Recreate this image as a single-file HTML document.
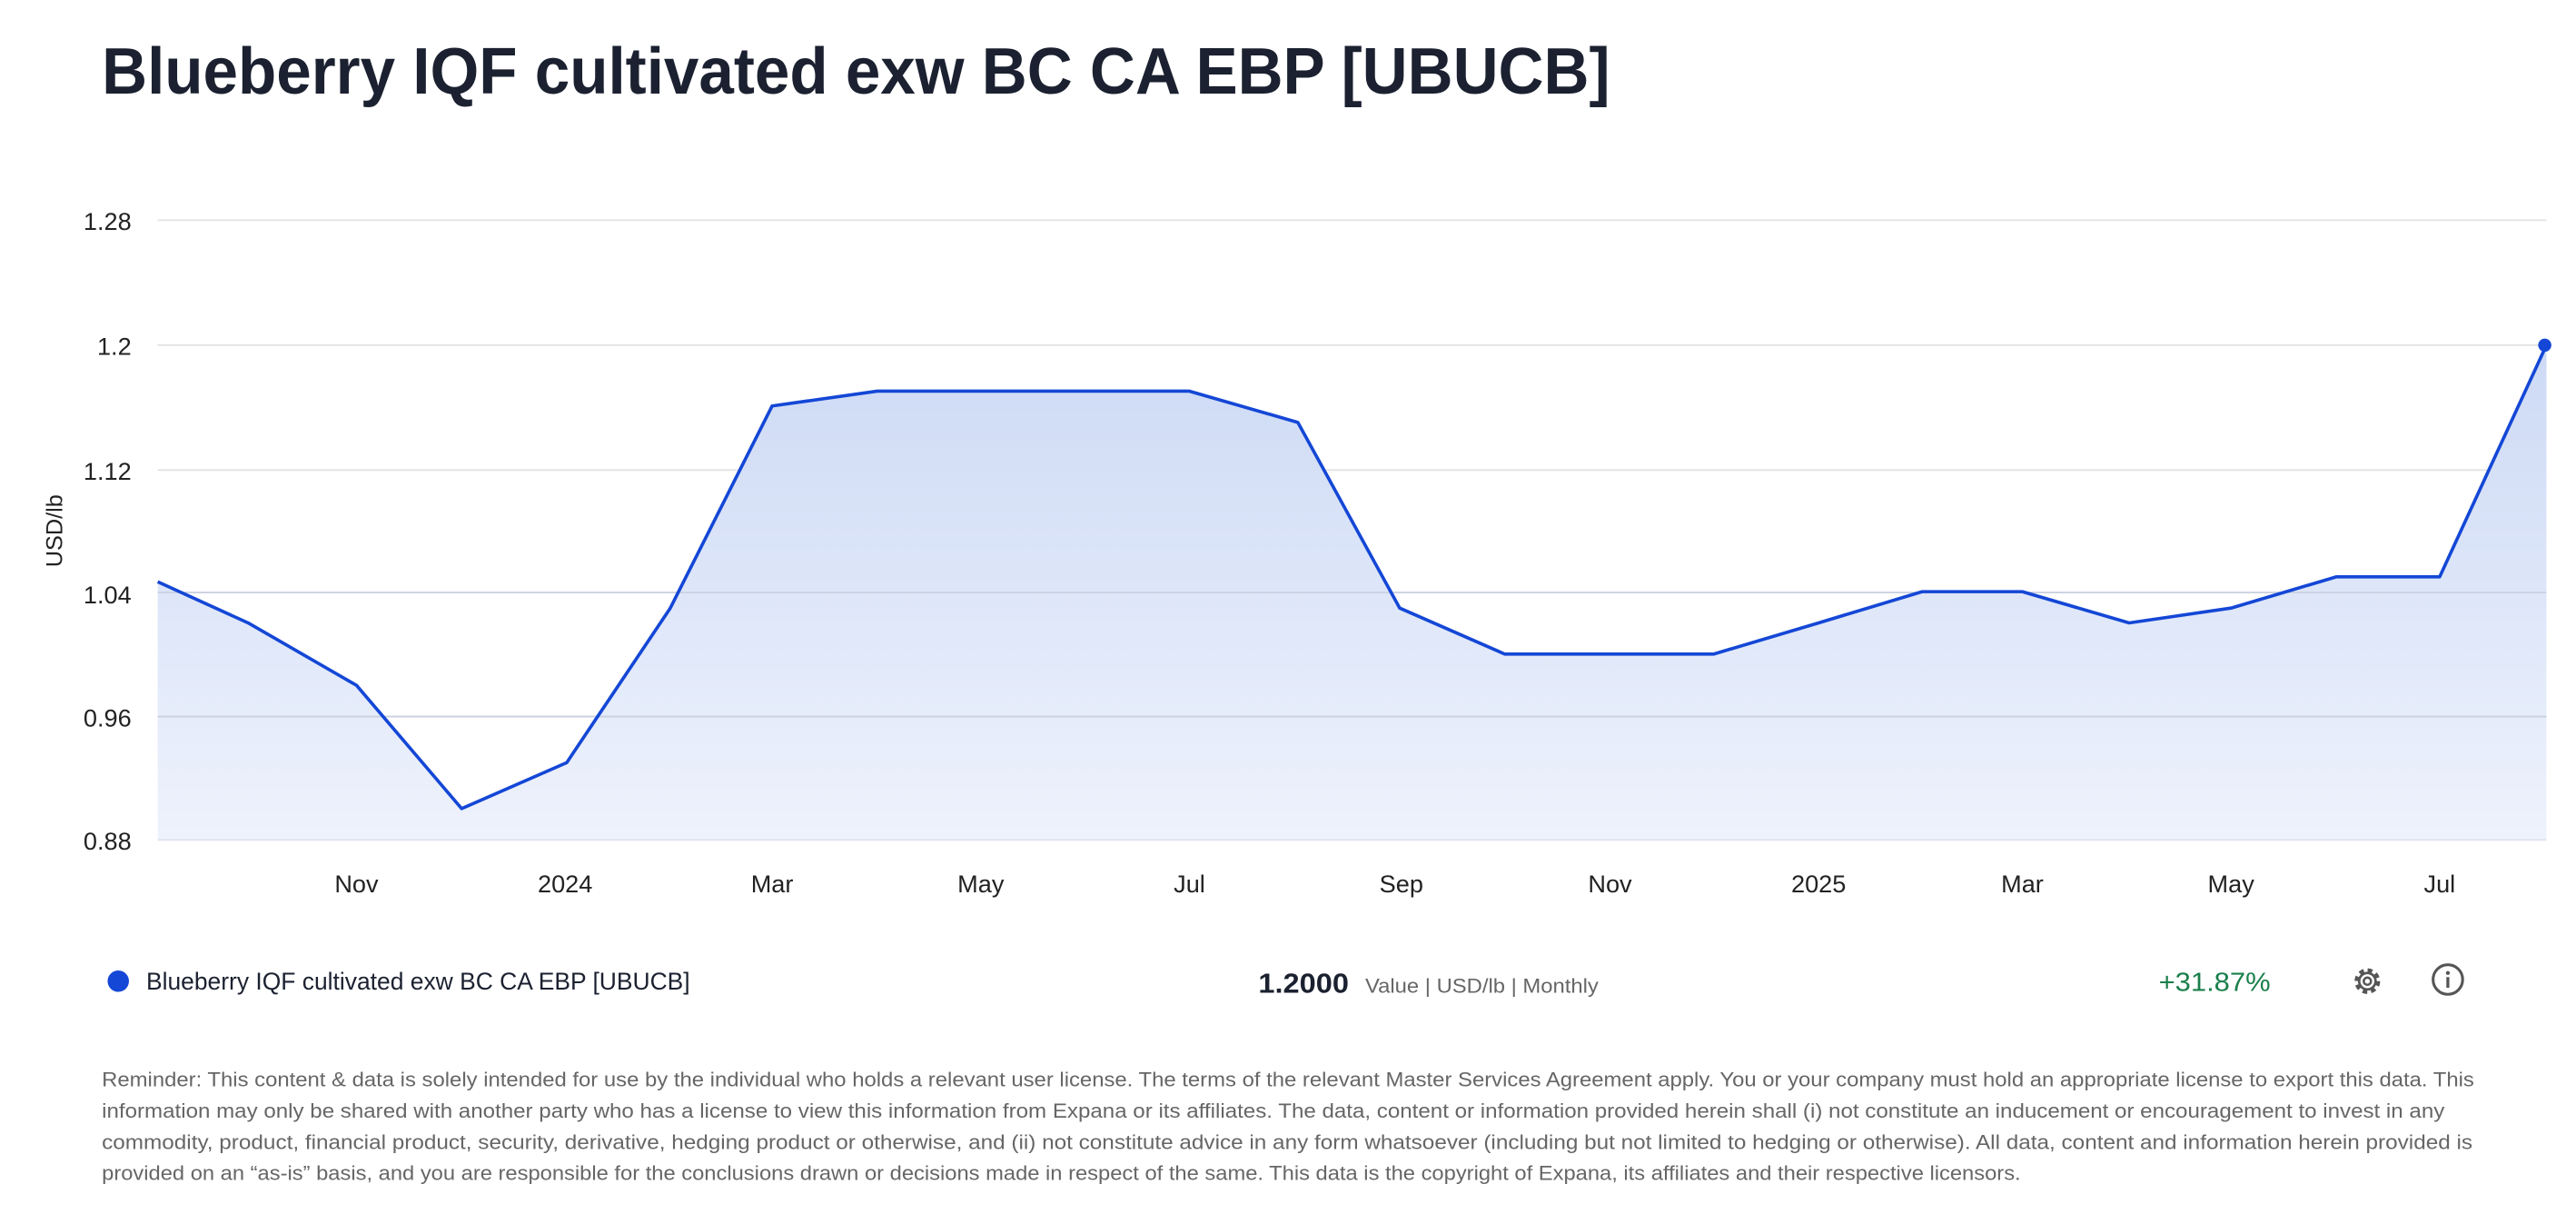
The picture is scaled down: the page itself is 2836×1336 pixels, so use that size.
<!DOCTYPE html>
<html><head><meta charset="utf-8"><style>
html,body{margin:0;padding:0;background:#fff;}
svg{display:block;}
text{font-family:"Liberation Sans",sans-serif;}
</style></head><body>
<svg width="2836" height="1336" viewBox="0 0 1568 738.66" xmlns="http://www.w3.org/2000/svg">
<defs>
<linearGradient id="g" gradientUnits="userSpaceOnUse" x1="0" y1="210" x2="0" y2="511">
<stop offset="0" stop-color="#cddaf5"/><stop offset="1" stop-color="#eef2fc"/>
</linearGradient>
</defs>
<text x="62" y="57" font-size="40" font-weight="bold" fill="#1b2130" textLength="918" lengthAdjust="spacingAndGlyphs">Blueberry IQF cultivated exw BC CA EBP [UBUCB]</text>
<g stroke="#e2e2e2" stroke-width="1">
<line x1="96" x2="1550" y1="134" y2="134"/>
<line x1="96" x2="1550" y1="210" y2="210"/>
<line x1="96" x2="1550" y1="286" y2="286"/>
<line x1="96" x2="1550" y1="360.5" y2="360.5"/>
<line x1="96" x2="1550" y1="436" y2="436"/>
<line x1="96" x2="1550" y1="511" y2="511"/>
</g>
<path fill="url(#g)" d="M96,354 L151,379 L217,417 L281,492 L345,464 L408,370 L470,247 L534,238 L597,238 L661,238 L724,238 L790,257 L852,370 L916,398 L980,398 L1043,398 L1107,379 L1170,360 L1231,360 L1296,379 L1358,370 L1422,351 L1485,351 L1550,210 L1550,511 L96,511 Z"/>
<g stroke="#c9d0e0" stroke-width="1">
<line x1="96" x2="1550" y1="360.5" y2="360.5"/>
<line x1="96" x2="1550" y1="436" y2="436"/>
<line x1="96" x2="1550" y1="511" y2="511" stroke="#dde2ee"/>
</g>
<path fill="none" stroke="#1447d6" stroke-width="2" stroke-linejoin="round" d="M96,354 L151,379 L217,417 L281,492 L345,464 L408,370 L470,247 L534,238 L597,238 L661,238 L724,238 L790,257 L852,370 L916,398 L980,398 L1043,398 L1107,379 L1170,360 L1231,360 L1296,379 L1358,370 L1422,351 L1485,351 L1550,210"/>
<circle cx="1549" cy="210" r="4" fill="#1447d6"/>
<g font-size="15" fill="#222" text-anchor="end">
<text x="80" y="140">1.28</text>
<text x="80" y="216">1.2</text>
<text x="80" y="292">1.12</text>
<text x="80" y="367">1.04</text>
<text x="80" y="442">0.96</text>
<text x="80" y="517">0.88</text>
</g>
<text transform="translate(38,323) rotate(-90)" font-size="14" fill="#222" text-anchor="middle">USD/lb</text>
<g font-size="15" fill="#222" text-anchor="middle">
<text x="217" y="543">Nov</text><text x="344" y="543">2024</text><text x="470" y="543">Mar</text>
<text x="597" y="543">May</text><text x="724" y="543">Jul</text><text x="853" y="543">Sep</text>
<text x="980" y="543">Nov</text><text x="1107" y="543">2025</text><text x="1231" y="543">Mar</text>
<text x="1358" y="543">May</text><text x="1485" y="543">Jul</text>
</g>
<circle cx="72" cy="597" r="6.5" fill="#1447d6"/>
<text x="89" y="602" font-size="15" fill="#1b2130" textLength="331" lengthAdjust="spacingAndGlyphs">Blueberry IQF cultivated exw BC CA EBP [UBUCB]</text>
<text x="766" y="604" font-size="17" font-weight="bold" fill="#1b2130" textLength="55" lengthAdjust="spacingAndGlyphs">1.2000</text>
<text x="831" y="604" font-size="12.5" fill="#666" textLength="142" lengthAdjust="spacingAndGlyphs">Value | USD/lb | Monthly</text>
<text x="1314" y="603" font-size="16" fill="#1a7f4b" textLength="68" lengthAdjust="spacingAndGlyphs">+31.87%</text>
<g transform="translate(1441,597)">
<circle r="6.5" fill="none" stroke="#555" stroke-width="2.6" stroke-dasharray="2.8 2.3"/>
<circle r="5" fill="none" stroke="#555" stroke-width="1.5"/>
<circle r="2.2" fill="none" stroke="#555" stroke-width="1.4"/>
</g>
<g transform="translate(1490,596)">
<circle r="9" fill="none" stroke="#555" stroke-width="1.7"/>
<circle cy="-4" r="1.2" fill="#555"/>
<rect x="-0.9" y="-1.5" width="1.8" height="6.5" fill="#555"/>
</g>
<g font-size="12.5" fill="#666">
<text x="62" y="661" textLength="1444" lengthAdjust="spacingAndGlyphs">Reminder: This content &amp; data is solely intended for use by the individual who holds a relevant user license. The terms of the relevant Master Services Agreement apply. You or your company must hold an appropriate license to export this data. This</text>
<text x="62" y="680" textLength="1426" lengthAdjust="spacingAndGlyphs">information may only be shared with another party who has a license to view this information from Expana or its affiliates. The data, content or information provided herein shall (i) not constitute an inducement or encouragement to invest in any</text>
<text x="62" y="699" textLength="1443" lengthAdjust="spacingAndGlyphs">commodity, product, financial product, security, derivative, hedging product or otherwise, and (ii) not constitute advice in any form whatsoever (including but not limited to hedging or otherwise). All data, content and information herein provided is</text>
<text x="62" y="718" textLength="1168" lengthAdjust="spacingAndGlyphs">provided on an “as-is” basis, and you are responsible for the conclusions drawn or decisions made in respect of the same. This data is the copyright of Expana, its affiliates and their respective licensors.</text>
</g>
</svg>
</body></html>
